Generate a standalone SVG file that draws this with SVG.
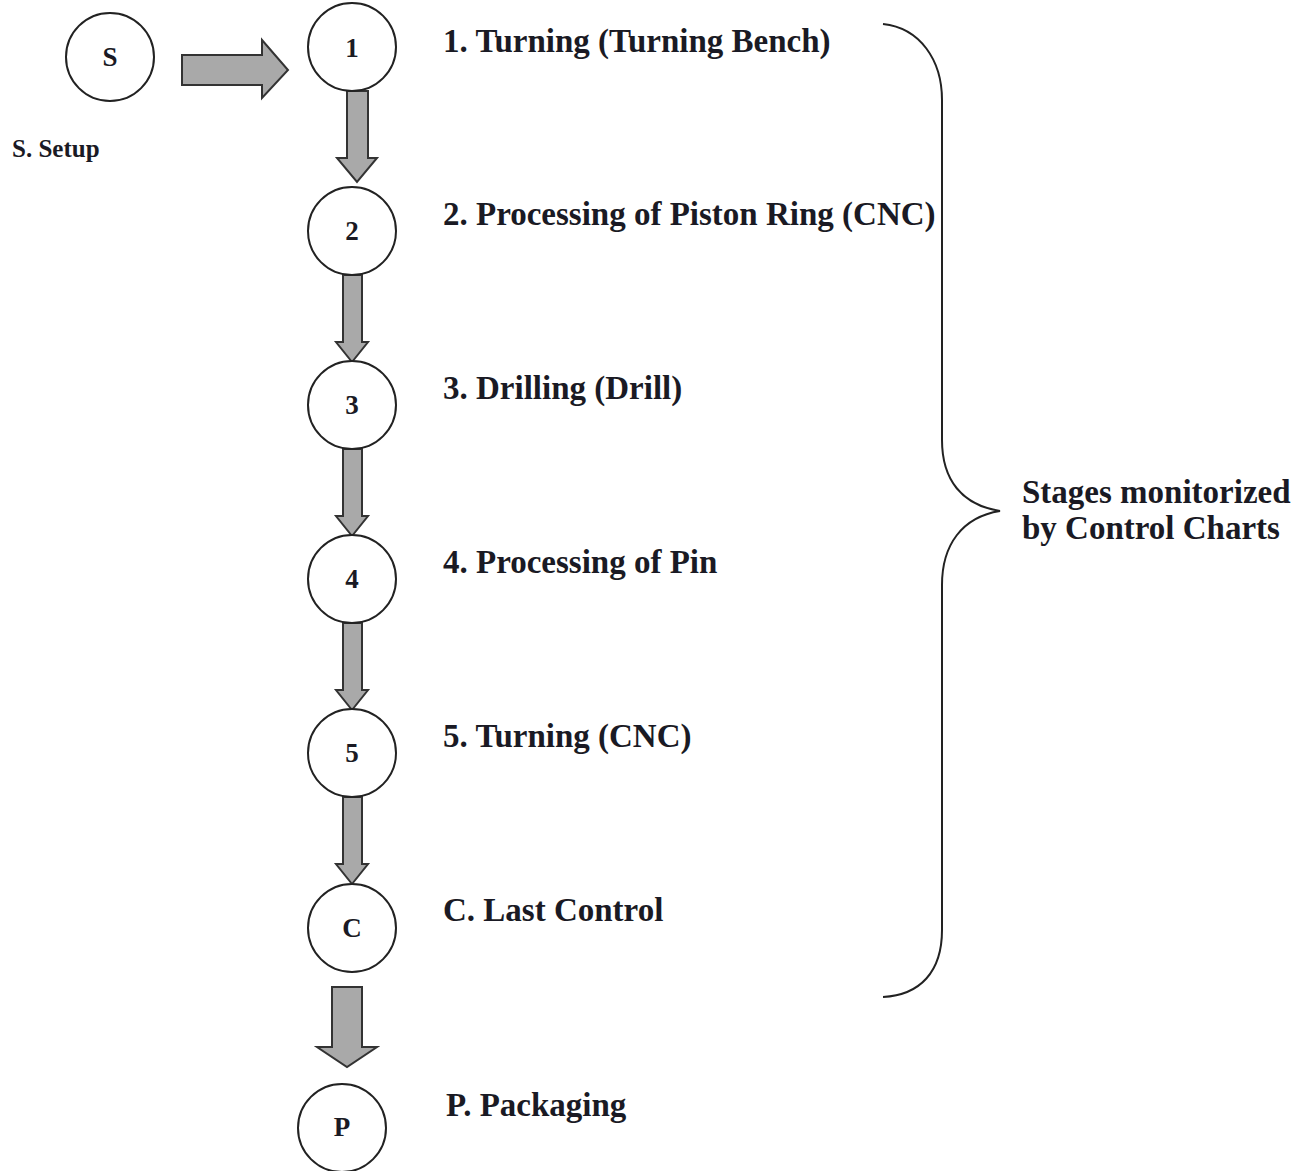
<svg xmlns="http://www.w3.org/2000/svg" width="1297" height="1171" viewBox="0 0 1297 1171">
<style>
.node circle{fill:#fff;stroke:#222;stroke-width:2}
.lbl{font-family:"Liberation Serif","Times New Roman",serif;font-weight:bold;fill:#1a1a24}
.in{font-size:27px;text-anchor:middle}
.st{font-size:33px}
.arr{fill:#a9a9a9;stroke:#333;stroke-width:2;stroke-linejoin:miter}
</style>
<rect width="1297" height="1171" fill="#fff"/>
<g id="connectors">
<polygon class="arr" points="182,55 262,55 262,40 288,70 262,98 262,85 182,85"/>
<polygon class="arr" points="347,91 368,91 368,158 377,158 357,182 337,158 347,158"/>
<polygon class="arr" points="343,275 362,275 362,342 368,342 352,362 336,342 343,342"/>
<polygon class="arr" points="343,449 362,449 362,516 368,516 352,536 336,516 343,516"/>
<polygon class="arr" points="343,623 362,623 362,690 368,690 352,710 336,690 343,690"/>
<polygon class="arr" points="343,797 362,797 362,864 368,864 352,884 336,864 343,864"/>
<polygon class="arr" points="332,987 362,987 362,1047 377,1047 347,1067 317,1047 332,1047"/>
</g>
<g id="node-S" class="node"><circle cx="110" cy="57" r="44"/><text class="lbl in" x="110" y="66">S</text></g>
<g id="node-1" class="node"><circle cx="352" cy="47" r="44"/><text class="lbl in" x="352" y="57">1</text></g>
<g id="node-2" class="node"><circle cx="352" cy="231" r="44"/><text class="lbl in" x="352" y="240">2</text></g>
<g id="node-3" class="node"><circle cx="352" cy="405" r="44"/><text class="lbl in" x="352" y="414">3</text></g>
<g id="node-4" class="node"><circle cx="352" cy="579" r="44"/><text class="lbl in" x="352" y="588">4</text></g>
<g id="node-5" class="node"><circle cx="352" cy="753" r="44"/><text class="lbl in" x="352" y="762">5</text></g>
<g id="node-C" class="node"><circle cx="352" cy="928" r="44"/><text class="lbl in" x="352" y="937">C</text></g>
<g id="node-P" class="node"><circle cx="342" cy="1128" r="44"/><text class="lbl in" x="342" y="1136">P</text></g>
<g id="labels">
<text class="lbl" x="12" y="157" font-size="25">S. Setup</text>
<text class="lbl st" x="443" y="52">1. Turning (Turning Bench)</text>
<text class="lbl st" x="443" y="225">2. Processing of Piston Ring (CNC)</text>
<text class="lbl st" x="443" y="399">3. Drilling (Drill)</text>
<text class="lbl st" x="443" y="573">4. Processing of Pin</text>
<text class="lbl st" x="443" y="747">5. Turning (CNC)</text>
<text class="lbl st" x="443" y="921">C. Last Control</text>
<text class="lbl st" x="446" y="1116">P. Packaging</text>
<text class="lbl st" x="1022" y="503">Stages monitorized</text>
<text class="lbl st" x="1022" y="539">by Control Charts</text>
</g>
<g id="brace">
<path d="M883 24 C920 28 942 60 942 100 L942 440 C942 480 962 505 1000 511 C962 517 942 545 942 585 L942 930 C942 972 920 995 883 997" fill="none" stroke="#222" stroke-width="2"/>
</g>
</svg>
